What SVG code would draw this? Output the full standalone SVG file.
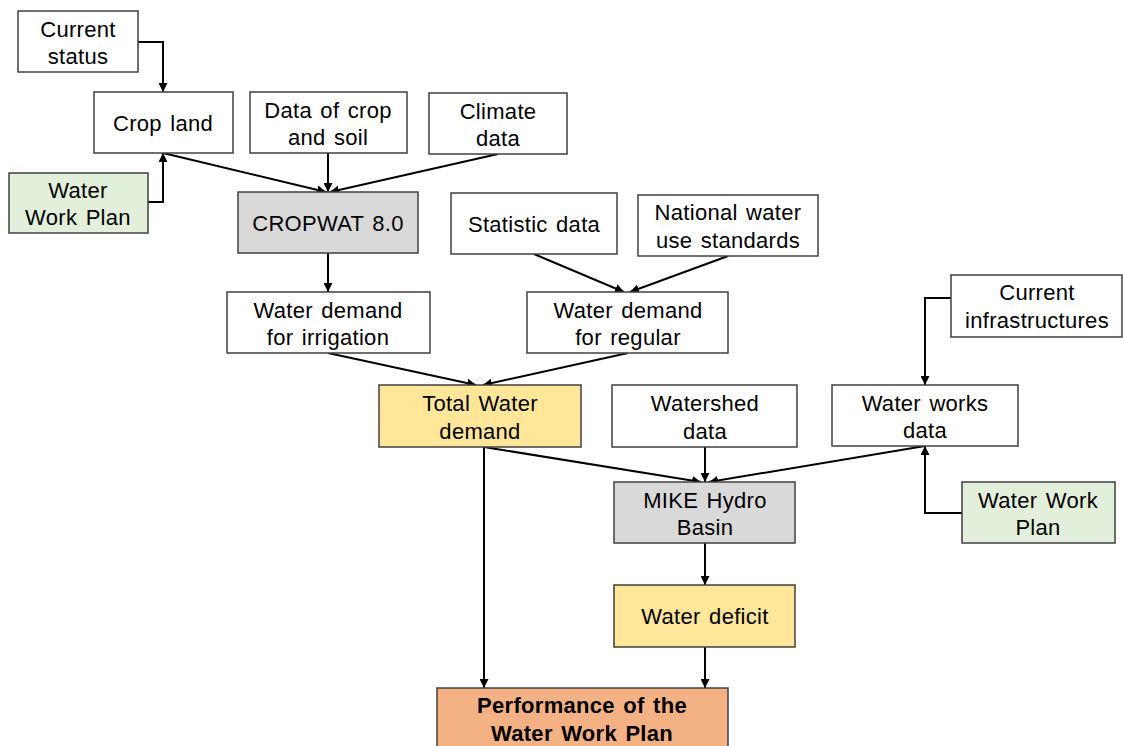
<svg xmlns="http://www.w3.org/2000/svg" width="1123" height="746" viewBox="0 0 1123 746">
<defs>
<style>
.box{stroke:#404040;stroke-width:1.5;}
.w{fill:#ffffff;}
.g{fill:#e2efda;}
.gr{fill:#d9d9d9;}
.y{fill:#ffe699;}
.o{fill:#f4b183;}
text{font-family:"Liberation Sans",Arial,sans-serif;font-size:22px;fill:#000;text-anchor:middle;letter-spacing:0.3px;word-spacing:2px;}
.b{font-weight:bold;}
.c{fill:none;stroke:#000;stroke-width:2;marker-end:url(#ah);}
</style>
<marker id="ah" markerUnits="userSpaceOnUse" markerWidth="9" markerHeight="9" viewBox="0 0 10 10" refX="10" refY="5" orient="auto">
<path d="M0,0 L10,5 L0,10 z" fill="#000"/>
</marker>
</defs>
<rect width="1123" height="746" fill="#ffffff"/>
<g id="connectors">
<polyline class="c" points="138,42 163,42 163,92"/>
<polyline class="c" points="148,202 163,202 163,153"/>
<line class="c" x1="163" y1="153" x2="326" y2="192"/>
<line class="c" x1="328" y1="153" x2="328" y2="192"/>
<line class="c" x1="498" y1="154" x2="330" y2="192"/>
<line class="c" x1="328" y1="253" x2="328" y2="292"/>
<line class="c" x1="534" y1="254" x2="624" y2="292"/>
<line class="c" x1="728" y1="256" x2="630" y2="292"/>
<line class="c" x1="328" y1="353" x2="476" y2="385"/>
<line class="c" x1="628" y1="353" x2="483" y2="385"/>
<polyline class="c" points="951,298 925,298 925,385"/>
<polyline class="c" points="962,513 925,513 925,446"/>
<line class="c" x1="484" y1="447" x2="701" y2="482"/>
<line class="c" x1="705" y1="447" x2="705" y2="482"/>
<line class="c" x1="925" y1="446" x2="709" y2="482"/>
<line class="c" x1="484" y1="447" x2="484" y2="688"/>
<line class="c" x1="705" y1="543" x2="705" y2="585"/>
<line class="c" x1="705" y1="647" x2="705" y2="688"/>
</g>
<g id="current-status"><rect class="box w" x="18" y="11" width="120" height="61"/><text x="78" y="37">Current</text><text x="78" y="64">status</text></g>
<g id="crop-land"><rect class="box w" x="94" y="92" width="139" height="61"/><text x="163" y="131">Crop land</text></g>
<g id="data-crop-soil"><rect class="box w" x="250" y="92" width="157" height="61"/><text x="328" y="118">Data of crop</text><text x="328" y="145">and soil</text></g>
<g id="climate-data"><rect class="box w" x="429" y="93" width="138" height="61"/><text x="498" y="119">Climate</text><text x="498" y="146">data</text></g>
<g id="water-work-plan-left"><rect class="box g" x="9" y="173" width="139" height="60"/><text x="78" y="198">Water</text><text x="78" y="225">Work Plan</text></g>
<g id="cropwat"><rect class="box gr" x="238" y="192" width="180" height="61"/><text x="328" y="231">CROPWAT 8.0</text></g>
<g id="statistic-data"><rect class="box w" x="451" y="193" width="166" height="61"/><text x="534" y="232">Statistic data</text></g>
<g id="national-standards"><rect class="box w" x="638" y="195" width="180" height="61"/><text x="728" y="220">National water</text><text x="728" y="248">use standards</text></g>
<g id="wd-irrigation"><rect class="box w" x="227" y="292" width="203" height="61"/><text x="328" y="318">Water demand</text><text x="328" y="345">for irrigation</text></g>
<g id="wd-regular"><rect class="box w" x="527" y="292" width="201" height="61"/><text x="628" y="318">Water demand</text><text x="628" y="345">for regular</text></g>
<g id="current-infrastructures"><rect class="box w" x="951" y="275" width="171" height="62"/><text x="1037" y="300">Current</text><text x="1037" y="328">infrastructures</text></g>
<g id="total-water-demand"><rect class="box y" x="379" y="385" width="202" height="62"/><text x="480" y="411">Total Water</text><text x="480" y="439">demand</text></g>
<g id="watershed-data"><rect class="box w" x="612" y="385" width="185" height="62"/><text x="705" y="411">Watershed</text><text x="705" y="439">data</text></g>
<g id="water-works-data"><rect class="box w" x="832" y="385" width="186" height="61"/><text x="925" y="411">Water works</text><text x="925" y="438">data</text></g>
<g id="mike-hydro"><rect class="box gr" x="614" y="482" width="181" height="61"/><text x="705" y="508">MIKE Hydro</text><text x="705" y="535">Basin</text></g>
<g id="water-work-plan-right"><rect class="box g" x="962" y="482" width="153" height="61"/><text x="1038" y="508">Water Work</text><text x="1038" y="535">Plan</text></g>
<g id="water-deficit"><rect class="box y" x="614" y="585" width="181" height="62"/><text x="705" y="624">Water deficit</text></g>
<g id="performance"><rect class="box o" x="437" y="688" width="291" height="70"/><text class="b" x="582" y="713">Performance of the</text><text class="b" x="582" y="741">Water Work Plan</text></g>
</svg>
